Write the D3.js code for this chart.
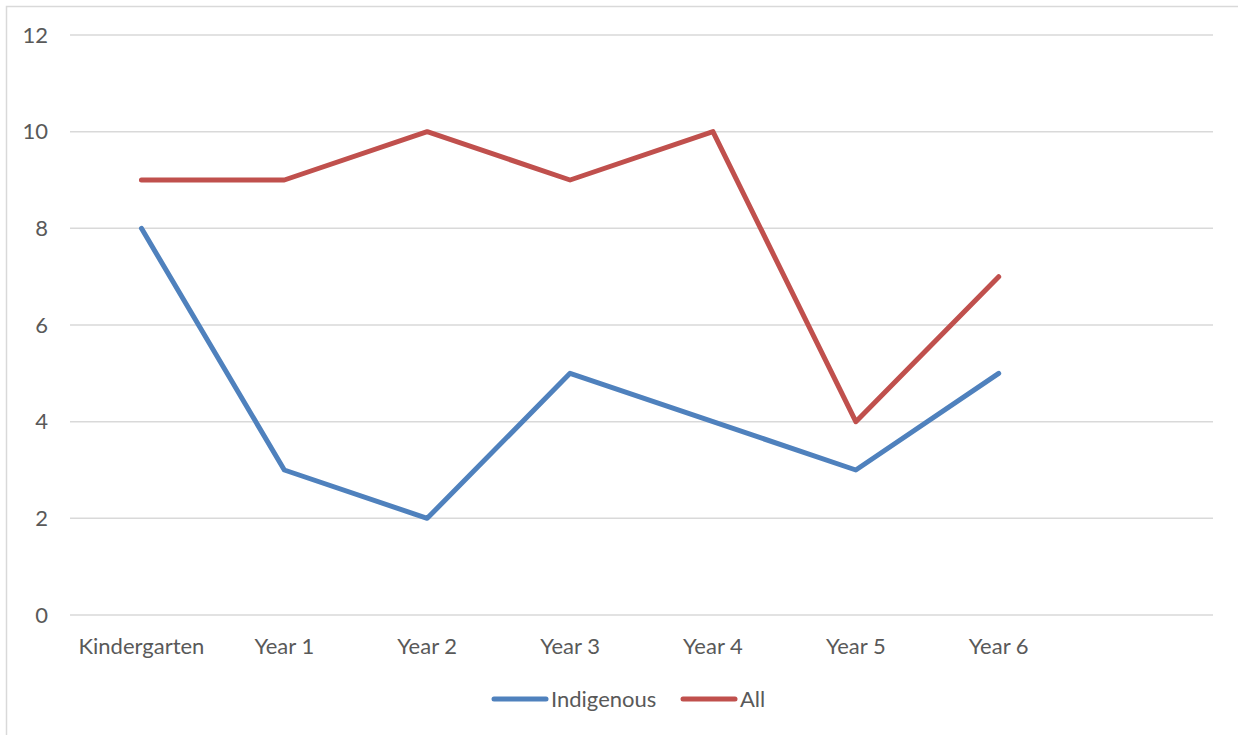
<!DOCTYPE html>
<html>
<head>
<meta charset="utf-8">
<script src="https://cdn.jsdelivr.net/npm/d3@7"></script>
<style>
  html, body { margin: 0; padding: 0; background: #fff; }
  svg { display: block; }
  text { font-family: Lato, "Open Sans", sans-serif; fill: #595959; }
</style>
</head>
<body>
<svg id="chart" width="1238" height="735"></svg>
<script>
// Category slots along the x axis (last slot intentionally blank)
const categories = ["Kindergarten", "Year 1", "Year 2", "Year 3", "Year 4", "Year 5", "Year 6", ""];
const seriesNames = ["Indigenous", "All"];
const indigenous = [8, 3, 2, 5, 4, 3, 5];
const all = [9, 9, 10, 9, 10, 4, 7];
const yTicks = [0, 2, 4, 6, 8, 10, 12];
const colors = ["#4f81bd", "#c0504d"];

const svg = d3.select("#chart");
const plot = { left: 70, right: 1213, top: 35, bottom: 615 };
const fontSize = 22;

// Outer chart frame
svg.append("rect")
  .attr("x", 6.5).attr("y", 6.5)
  .attr("width", 1240).attr("height", 740)
  .attr("fill", "none").attr("stroke", "#d9d9d9").attr("stroke-width", 1.5);

const x = d3.scaleBand().domain(categories.map((c, i) => i)).range([plot.left, plot.right]);
const y = d3.scaleLinear().domain([0, 12]).range([plot.bottom, plot.top]);

// Horizontal gridlines
svg.append("g").selectAll("line").data(yTicks).join("line")
  .attr("x1", plot.left).attr("x2", plot.right)
  .attr("y1", d => y(d)).attr("y2", d => y(d))
  .attr("stroke", "#d9d9d9").attr("stroke-width", 1.5);

// Y axis labels
svg.append("g").selectAll("text").data(yTicks).join("text")
  .attr("x", 48).attr("y", d => y(d))
  .attr("dy", "0.35em")
  .attr("text-anchor", "end")
  .attr("font-size", fontSize)
  .text(d => d);

// X axis labels
svg.append("g").selectAll("text").data(categories).join("text")
  .attr("x", (d, i) => x(i) + x.bandwidth() / 2)
  .attr("y", 646).attr("dy", "0.35em")
  .attr("text-anchor", "middle")
  .attr("font-size", fontSize)
  .text(d => d);

// Series lines
const line = d3.line()
  .x((d, i) => x(i) + x.bandwidth() / 2)
  .y(d => y(d));

[indigenous, all].forEach((vals, k) => {
  svg.append("path")
    .datum(vals)
    .attr("d", line)
    .attr("fill", "none")
    .attr("stroke", colors[k])
    .attr("stroke-width", 5)
    .attr("stroke-linecap", "round")
    .attr("stroke-linejoin", "round");
});

// Legend
const legendItems = [
  { name: seriesNames[0], color: colors[0], x0: 494 },
  { name: seriesNames[1], color: colors[1], x0: 683 }
];
const lg = svg.append("g");
legendItems.forEach(it => {
  lg.append("line")
    .attr("x1", it.x0).attr("x2", it.x0 + 52)
    .attr("y1", 699).attr("y2", 699)
    .attr("stroke", it.color).attr("stroke-width", 5)
    .attr("stroke-linecap", "round");
  lg.append("text")
    .attr("x", it.x0 + 57).attr("y", 699).attr("dy", "0.35em")
    .attr("font-size", fontSize)
    .text(it.name);
});
</script>
</body>
</html>
